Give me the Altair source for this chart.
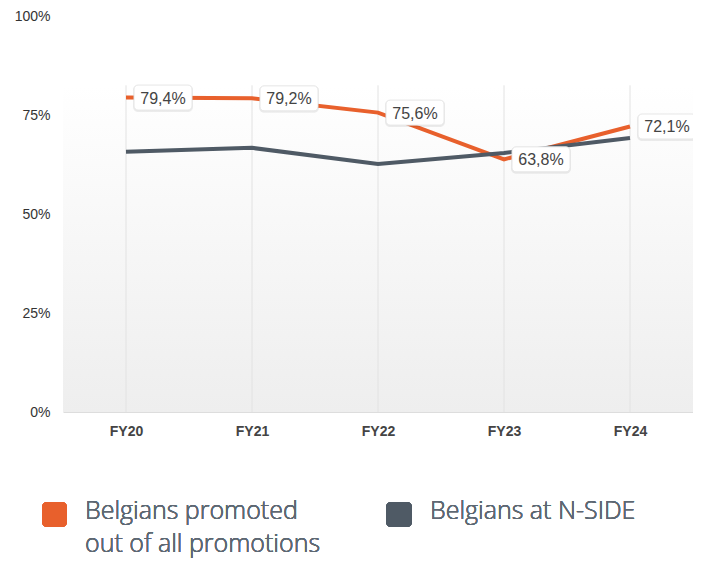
import altair as alt
import pandas as pd

years = ["FY20", "FY21", "FY22", "FY23", "FY24"]
promoted = [79.4, 79.2, 75.6, 63.8, 72.1]
promoted_labels = ["79,4%", "79,2%", "75,6%", "63,8%", "72,1%"]
at_nside = [65.7, 66.7, 62.6, 65.4, 69.2]
series_names = ["Belgians promoted", "Belgians at N-SIDE"]
legend_line2 = "out of all promotions"
y_ticks = [0, 25, 50, 75, 100]

ORANGE = "#E8602C"
GRAY = "#4F5A65"

df_p = pd.DataFrame({"year": years, "value": promoted, "label": promoted_labels})
df_n = pd.DataFrame({"year": years, "value": at_nside})

W, H = 630, 396

x_enc = alt.X("year:N", sort=years, scale=alt.Scale(type="point", padding=0.5),
              axis=alt.Axis(title=None, labelAngle=0, labelFont="Liberation Sans",
                            labelFontSize=14, labelFontWeight="bold", labelColor="#444",
                            labelPadding=12, ticks=False, domainColor="#dddddd",
                            domainWidth=1, grid=False))
y_scale = alt.Scale(domain=[0, 100], nice=False)
y_enc = alt.Y("value:Q", scale=y_scale,
              axis=alt.Axis(title=None, values=y_ticks, labelExpr="datum.value + '%'",
                            labelFont="Liberation Sans", labelFontSize=14,
                            labelColor="#333", labelPadding=13, ticks=False,
                            domain=False, grid=False))

base_p = alt.Chart(df_p)
base_n = alt.Chart(df_n)

bg = base_p.mark_rect(
    color=alt.Gradient(gradient="linear",
                       stops=[alt.GradientStop(color="#ffffff", offset=0),
                              alt.GradientStop(color="#eeeeee", offset=1)],
                       x1=0, x2=0, y1=0, y2=1)
).encode(x=alt.value(0), x2=alt.value(W), y=alt.datum(82.5, scale=y_scale), y2=alt.datum(0))

grid = base_p.mark_rule(color="#e2e2e2", strokeWidth=1).encode(
    x=x_enc, y=alt.datum(0, scale=y_scale), y2=alt.datum(82.5))

line_p = base_p.mark_line(color=ORANGE, strokeWidth=4).encode(x=x_enc, y=y_enc)
line_n = base_n.mark_line(color=GRAY, strokeWidth=4).encode(x=x_enc, y=y_enc)

shadow = base_p.mark_rect(width=60, height=27, cornerRadius=5, xOffset=37, yOffset=1,
                          fill="#000000", fillOpacity=0.07).encode(x=x_enc, y=y_enc)
boxes = base_p.mark_rect(width=58, height=25, cornerRadius=4, xOffset=37,
                         fill="white", stroke="#e6e6e6", strokeWidth=1).encode(x=x_enc, y=y_enc)
texts = base_p.mark_text(align="center", baseline="middle", dx=37, dy=1,
                         font="Liberation Sans", fontSize=16, color="#444").encode(
    x=x_enc, y=y_enc, text="label:N")

leg_font = dict(font="Open Sans", fontWeight=300, fontSize=25, color="#5d6873",
                align="left", baseline="alphabetic", lineHeight=33)
sq1 = base_p.mark_rect(color=ORANGE, cornerRadius=5).encode(
    x=alt.value(42 - 63), x2=alt.value(67 - 63), y=alt.value(502 - 16), y2=alt.value(527 - 16))
sq2 = base_p.mark_rect(color=GRAY, cornerRadius=5).encode(
    x=alt.value(386 - 63), x2=alt.value(412 - 63), y=alt.value(502 - 16), y2=alt.value(527 - 16))
t1 = base_p.mark_text(text=[series_names[0], legend_line2], **leg_font).encode(
    x=alt.value(85 - 63), y=alt.value(519 - 16))
t2 = base_p.mark_text(text=series_names[1], **leg_font).encode(
    x=alt.value(430 - 63), y=alt.value(519 - 16))

chart = alt.layer(bg, grid, line_p, line_n, shadow, boxes, texts, sq1, sq2, t1, t2).properties(
    width=W, height=H,
    background="white",
    autosize=alt.AutoSizeParams(type="none"),
    padding={"left": 55, "top": 8, "right": 0, "bottom": 149},
).configure_view(stroke=None)

chart.save("out.html", embed_options={"renderer": "svg", "actions": False})
